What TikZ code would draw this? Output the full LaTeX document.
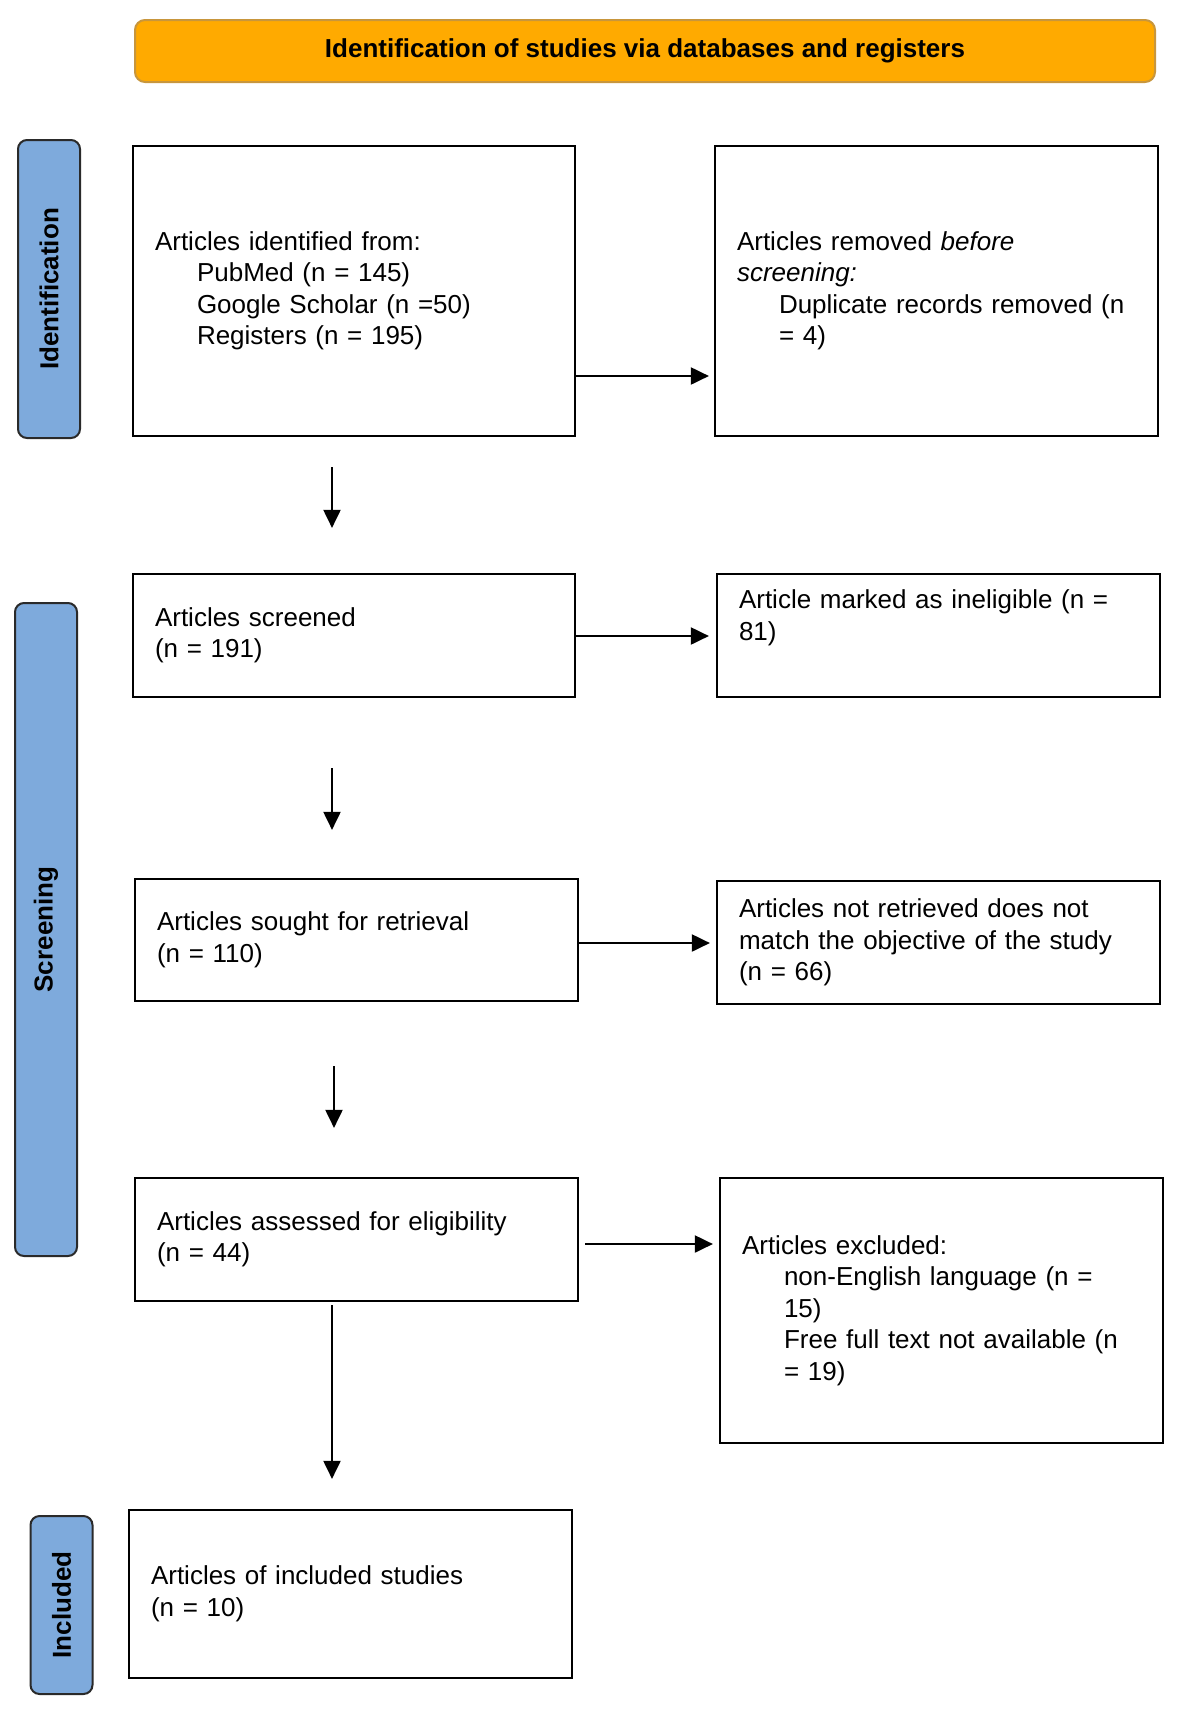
\documentclass[tikz,border=0pt]{standalone}
\usepackage{fontspec}
\setmainfont{Liberation Sans}
\usetikzlibrary{arrows.meta,calc}
\definecolor{orangefill}{HTML}{FFAA00}
\definecolor{orangedraw}{HTML}{C8963C}
\definecolor{bluefill}{HTML}{7EAADC}
\definecolor{bluedraw}{HTML}{2A2A2A}
\begin{document}
\begin{tikzpicture}[x=1pt,y=-1pt,
  every node/.style={font=\fontsize{26}{31.5}\selectfont},
  box/.style={draw=black, line width=2.2pt, fill=white, align=left, inner xsep=22pt, inner ysep=0pt},
  phase/.style={draw=bluedraw, fill=bluefill, line width=2pt, rounded corners=9pt, rotate=90,
    minimum height=62pt, inner sep=0pt, font=\bfseries\fontsize{26}{31.5}\selectfont},
  arr/.style={line width=2pt, -{Triangle[length=18pt,width=17pt]}}
]
\useasboundingbox (0,0) rectangle (1184,1716);
\fill[white] (0,0) rectangle (1184,1716);

% title
\node[draw=orangedraw, fill=orangefill, line width=2pt, rounded corners=10pt,
  minimum width=1020pt, minimum height=62pt, inner sep=0pt,
  font=\bfseries\fontsize{26}{31.5}\selectfont] (title) at (645,51)
  {Identification of studies via databases and registers};

% phase labels
\node[phase, minimum width=298pt] (lab1) at (49,289) {Identification};
\node[phase, minimum width=653pt] (lab2) at (46,929.5) {Screening};
\node[phase, minimum width=178pt] (lab3) at (61.5,1605) {Included};

% boxes
\node[box, minimum width=442pt, minimum height=290pt, text width=398pt] (b1) at (354,291)
  {Articles identified from:\\
   \hspace*{42pt}PubMed (n = 145)\\
   \hspace*{42pt}Google Scholar (n =50)\\
   \hspace*{42pt}Registers (n = 195)};
\node[box, minimum width=443pt, minimum height=290pt, text width=399pt] (b2) at (936.5,291)
  {Articles removed \textit{before}\\
   \textit{screening:}\\
   \hspace*{42pt}Duplicate records removed (n\\
   \hspace*{42pt}= 4)};
\node[box, minimum width=442pt, minimum height=123pt, text width=398pt] (b3) at (354,635.5)
  {Articles screened\\(n = 191)};
\node[box, minimum width=443pt, minimum height=123pt, text width=399pt] (b4) at (938.5,635.5)
  {Article marked as ineligible (n =\\81)\\\strut};
\node[box, minimum width=443pt, minimum height=122pt, text width=399pt] (b5) at (356.5,940)
  {Articles sought for retrieval\\(n = 110)};
\node[box, minimum width=443pt, minimum height=123pt, text width=399pt] (b6) at (938.5,942.5)
  {Articles not retrieved does not\\match the objective of the study\\(n = 66)};
\node[box, minimum width=443pt, minimum height=123pt, text width=399pt] (b7) at (356.5,1239.5)
  {Articles assessed for eligibility\\(n = 44)};
\node[box, minimum width=443pt, minimum height=265pt, text width=399pt] (b8) at (941.5,1310.5)
  {Articles excluded:\\
   \hspace*{42pt}non-English language (n =\\
   \hspace*{42pt}15)\\
   \hspace*{42pt}Free full text not available (n\\
   \hspace*{42pt}= 19)};
\node[box, minimum width=443pt, minimum height=168pt, text width=399pt] (b9) at (350.5,1594)
  {Articles of included studies\\(n = 10)};

% helper coordinates for connector positions
\coordinate (h1) at (0,376);
\coordinate (h2) at (0,636);
\coordinate (h3) at (0,943);
\coordinate (h4) at (0,1244);
\coordinate (v1) at (332,0);
\coordinate (v3) at (334,0);

% horizontal connectors
\draw[arr, shorten >=5pt] (b1.east |- h1) -- (b2.west |- h1);
\draw[arr, shorten >=7pt] (b3.east |- h2) -- (b4.west |- h2);
\draw[arr, shorten >=6pt] (b5.east |- h3) -- (b6.west |- h3);
\draw[arr, shorten <=6pt, shorten >=6pt] (b7.east |- h4) -- (b8.west |- h4);

% vertical connectors
\draw[arr, shorten <=30pt, shorten >=45pt] (b1.south -| v1) -- (b3.north -| v1);
\draw[arr, shorten <=70pt, shorten >=48pt] (b3.south -| v1) -- (b5.north -| v1);
\draw[arr, shorten <=64pt, shorten >=49pt] (b5.south -| v3) -- (b7.north -| v3);
\draw[arr, shorten <=3pt, shorten >=30pt] (b7.south -| v1) -- (b9.north -| v1);
\end{tikzpicture}
\end{document}
